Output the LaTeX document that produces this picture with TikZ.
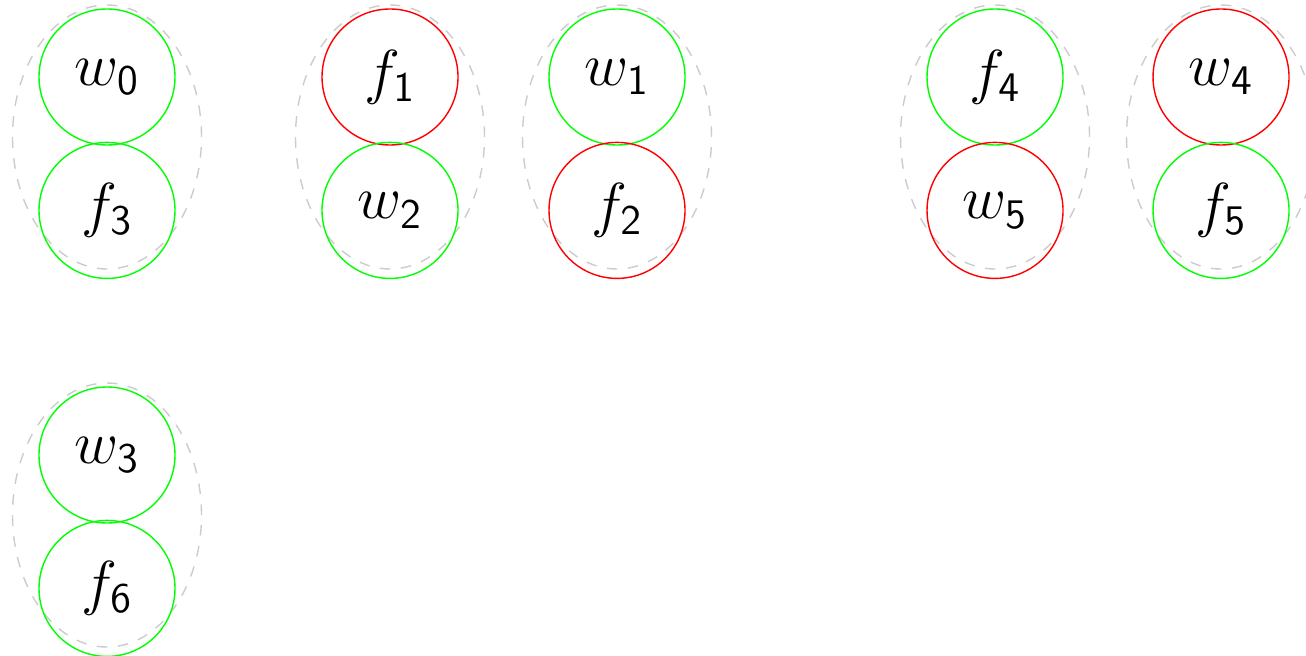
\documentclass[tikz,border=0pt]{standalone}
\usepackage{tikz}
\usetikzlibrary{positioning,shapes.geometric}
\tikzset{
  var/.style={circle, draw, minimum size=1.36cm, inner sep=0pt,
              font=\fontsize{18}{21}\selectfont},
  sat/.style={var, draw=green},
  unsat/.style={var, draw=red},
  pair/.style={ellipse, draw=gray!40, dashed, minimum width=1.89cm,
               minimum height=2.64cm, inner sep=0pt},
}
\newcommand{\vw}[1]{$w_{\mathsf{#1}}$}
\newcommand{\vf}[1]{$f_{\mathsf{#1}}$}

\begin{document}
\begin{tikzpicture}[node distance=-0.04cm]
\useasboundingbox (0,0) rectangle (13.06,6.55);
% dashed groups
\node[pair] (g1) at (1.07,5.18) {};
\node[pair] (g2) at (3.90,5.18) {};
\node[pair] (g3) at (6.17,5.18) {};
\node[pair] (g4) at (9.95,5.18) {};
\node[pair] (g5) at (12.21,5.18) {};
\node[pair] (g6) at (1.07,1.40) {};
% top row
\node[sat] (w0) at (1.07,5.78) {\vw{0}};
\node[sat, below=of w0] (f3) {\vf{3}};
\node[unsat] (f1) at (3.90,5.78) {\vf{1}};
\node[sat, below=of f1] (w2) {\vw{2}};
\node[sat] (w1) at (6.17,5.78) {\vw{1}};
\node[unsat, below=of w1] (f2) {\vf{2}};
\node[sat] (f4) at (9.95,5.78) {\vf{4}};
\node[unsat, below=of f4] (w5) {\vw{5}};
\node[unsat] (w4) at (12.21,5.78) {\vw{4}};
\node[sat, below=of w4] (f5) {\vf{5}};
% bottom row
\node[sat] (w3) at (1.07,2.00) {\vw{3}};
\node[sat, below=of w3] (f6) {\vf{6}};
\end{tikzpicture}
\end{document}
